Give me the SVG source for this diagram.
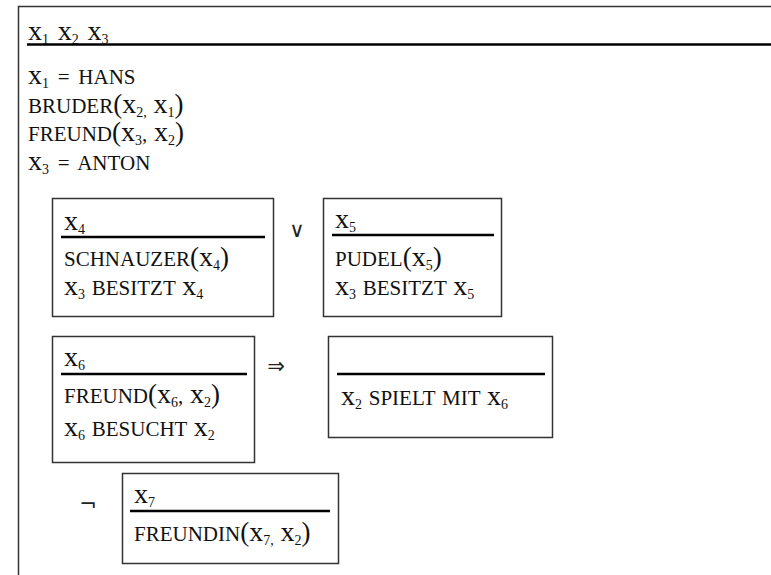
<svg xmlns="http://www.w3.org/2000/svg" width="771" height="575" viewBox="0 0 771 575">
<style>
  text { font-family: "Liberation Serif", "Times New Roman", serif; font-size: 21px; fill: #111; word-spacing: 1.5px; }
  .v { font-size: 28px; }
  .s { font-size: 14px; }
  .p { font-size: 27px; }
  .box { fill: none; stroke: #333; stroke-width: 1.5; }
  .rule { stroke: #000; stroke-width: 2.3; }
  .op { font-family: "DejaVu Sans", sans-serif; fill: #222; }
</style>
<rect width="771" height="575" fill="#fff"/>
<g id="main">
  <path class="box" d="M 18.5 600 L 18.5 6.5 L 780 6.5"/>
  <line class="rule" x1="27" y1="44.5" x2="771" y2="44.5"/>
  <text x="28" y="40"><tspan class="v">x</tspan><tspan class="s" dy="4">1</tspan><tspan dy="-4" dx="2"> </tspan><tspan class="v">x</tspan><tspan class="s" dy="4">2</tspan><tspan dy="-4" dx="2"> </tspan><tspan class="v">x</tspan><tspan class="s" dy="4">3</tspan></text>
  <text x="28" y="84"><tspan class="v">x</tspan><tspan class="s" dy="4">1</tspan><tspan dy="-4" dx="2"> = </tspan><tspan dx="2">HANS</tspan></text>
  <text x="28" y="113">BRUDER<tspan class="p">(</tspan><tspan class="v">x</tspan><tspan class="s" dy="4">2,</tspan><tspan dy="-4"> </tspan><tspan class="v">x</tspan><tspan class="s" dy="4">1</tspan><tspan class="p" dy="-4">)</tspan></text>
  <text x="28" y="141">FREUND<tspan class="p">(</tspan><tspan class="v">x</tspan><tspan class="s" dy="4">3</tspan><tspan dy="-4">, </tspan><tspan class="v">x</tspan><tspan class="s" dy="4">2</tspan><tspan class="p" dy="-4">)</tspan></text>
  <text x="28" y="170"><tspan class="v">x</tspan><tspan class="s" dy="4">3</tspan><tspan dy="-4" dx="2"> = </tspan><tspan dx="2">ANTON</tspan></text>
</g>
<g id="box-x4">
  <rect class="box" x="52.5" y="198.5" width="221" height="118"/>
  <line class="rule" x1="61" y1="237" x2="265" y2="237"/>
  <text x="64" y="230"><tspan class="v">x</tspan><tspan class="s" dy="4">4</tspan></text>
  <text x="64" y="266">SCHNAUZER<tspan class="p">(</tspan><tspan class="v">x</tspan><tspan class="s" dy="4">4</tspan><tspan class="p" dy="-4">)</tspan></text>
  <text x="64" y="295"><tspan class="v">x</tspan><tspan class="s" dy="4">3</tspan><tspan dy="-4"> BESITZT </tspan><tspan class="v">x</tspan><tspan class="s" dy="4">4</tspan></text>
</g>
<g id="box-x5">
  <rect class="box" x="323.5" y="198.5" width="178" height="118"/>
  <line class="rule" x1="332" y1="235" x2="494" y2="235"/>
  <text x="335" y="228"><tspan class="v">x</tspan><tspan class="s" dy="4">5</tspan></text>
  <text x="335" y="266">PUDEL<tspan class="p">(</tspan><tspan class="v">x</tspan><tspan class="s" dy="4">5</tspan><tspan class="p" dy="-4">)</tspan></text>
  <text x="335" y="295"><tspan class="v">x</tspan><tspan class="s" dy="4">3</tspan><tspan dy="-4"> BESITZT </tspan><tspan class="v">x</tspan><tspan class="s" dy="4">5</tspan></text>
</g>
<g id="box-x6">
  <rect class="box" x="52.5" y="336.5" width="202" height="126"/>
  <line class="rule" x1="61" y1="374" x2="247" y2="374"/>
  <text x="64" y="366"><tspan class="v">x</tspan><tspan class="s" dy="4">6</tspan></text>
  <text x="64" y="403">FREUND<tspan class="p">(</tspan><tspan class="v">x</tspan><tspan class="s" dy="4">6</tspan><tspan dy="-4">, </tspan><tspan class="v">x</tspan><tspan class="s" dy="4">2</tspan><tspan class="p" dy="-4">)</tspan></text>
  <text x="64" y="436"><tspan class="v">x</tspan><tspan class="s" dy="4">6</tspan><tspan dy="-4"> BESUCHT </tspan><tspan class="v">x</tspan><tspan class="s" dy="4">2</tspan></text>
</g>
<g id="box-consequent">
  <rect class="box" x="328.5" y="336.5" width="224" height="101"/>
  <line class="rule" x1="337" y1="374" x2="545" y2="374"/>
  <text x="341" y="405"><tspan class="v">x</tspan><tspan class="s" dy="4">2</tspan><tspan dy="-4"> SPIELT MIT </tspan><tspan class="v">x</tspan><tspan class="s" dy="4">6</tspan></text>
</g>
<g id="box-x7">
  <rect class="box" x="122.5" y="473.5" width="216" height="90"/>
  <line class="rule" x1="130" y1="511" x2="330" y2="511"/>
  <text x="134" y="503"><tspan class="v">x</tspan><tspan class="s" dy="4">7</tspan></text>
  <text x="134" y="541">FREUNDIN<tspan class="p">(</tspan><tspan class="v">x</tspan><tspan class="s" dy="4">7,</tspan><tspan dy="-4"> </tspan><tspan class="v">x</tspan><tspan class="s" dy="4">2</tspan><tspan class="p" dy="-4">)</tspan></text>
</g>
<g id="connectors">
  <text class="op" x="297" y="237" text-anchor="middle" font-size="16">∨</text>
  <text class="op" x="276" y="373" text-anchor="middle" font-size="21">⇒</text>
  <text class="op" x="88" y="511" text-anchor="middle" font-size="28">¬</text>
</g>
</svg>
